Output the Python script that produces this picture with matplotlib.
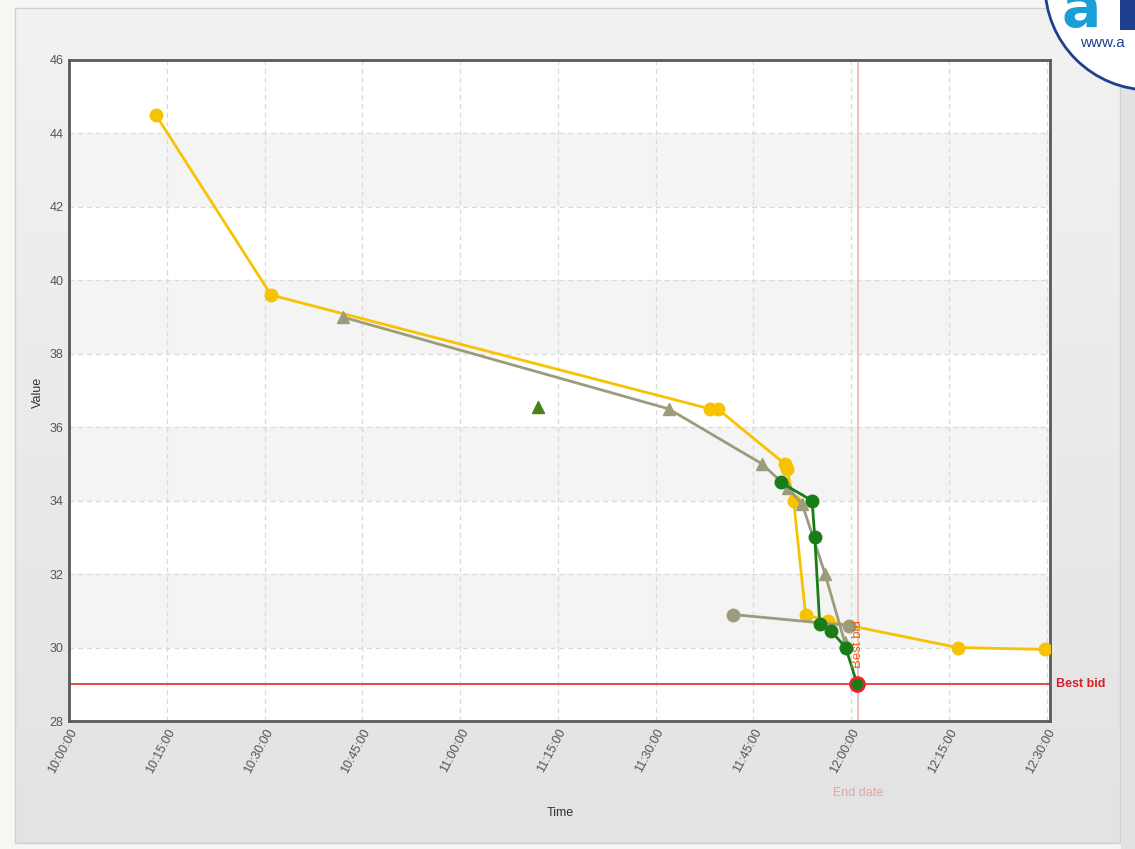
import matplotlib
matplotlib.use("Agg")
import matplotlib.pyplot as plt
import matplotlib.dates as mdates
import numpy as np
import pandas as pd
from matplotlib.patches import Circle, Rectangle

plt.rcParams['font.family'] = ['Liberation Sans', 'DejaVu Sans']

DAY = "2020-01-01 "

# ---------------- data ----------------
yellow_times = ["10:13:20", "10:31:00", "11:38:20", "11:39:30", "11:49:50", "11:50:10",
                "11:51:10", "11:53:00", "11:56:25", "12:16:20", "12:29:40"]
yellow_vals = [44.5, 39.6, 36.5, 36.5, 35.0, 34.85, 34.0, 30.9, 30.72, 30.0, 29.95]

khaki_tri_times = ["10:42:00", "11:32:00", "11:46:20", "11:50:15", "11:52:30", "11:56:00", "11:59:00"]
khaki_tri_vals = [39.0, 36.5, 35.0, 34.35, 33.9, 32.0, 30.15]

khaki_circ_times = ["11:41:50", "11:59:40"]
khaki_circ_vals = [30.9, 30.6]

green_times = ["11:49:10", "11:54:00", "11:54:25", "11:55:10", "11:56:55", "11:59:10", "12:00:55"]
green_vals = [34.5, 34.0, 33.0, 30.65, 30.45, 30.0, 29.0]

lone_tri_times = ["11:12:00"]
lone_tri_vals = [36.55]

best_bid = 29.0
end_date = "12:01:00"

x_start, x_end = "10:00:00", "12:30:30"
y_min, y_max = 28, 46
y_ticks = [28, 30, 32, 34, 36, 38, 40, 42, 44, 46]


def T(lst):
    return pd.to_datetime([DAY + s for s in lst])


# ---------------- figure ----------------
W, H = 1135, 849
fig = plt.figure(figsize=(W / 100, H / 100), dpi=100)
fig.patch.set_facecolor('#f6f6f2')

# background panel with vertical gradient
bg = fig.add_axes([0, 0, 1, 1], zorder=-10)
bg.set_xlim(0, W)
bg.set_ylim(H, 0)
bg.axis('off')
grad = np.linspace(0, 1, 256).reshape(-1, 1)
top_c = np.array([0xf2, 0xf2, 0xf2]) / 255
bot_c = np.array([0xe3, 0xe3, 0xe3]) / 255
img = top_c[None, None, :] * (1 - grad[:, :, None]) + bot_c[None, None, :] * grad[:, :, None]
bg.imshow(img, extent=[15, 1120, 843, 8], aspect='auto', zorder=0)
bg.add_patch(Rectangle((15, 8), 1105, 835, fill=False, ec='#d0d0d0', lw=1, zorder=1))
bg.add_patch(Rectangle((1121, 0), 14, H, fc='#e2e2e2', ec='none', zorder=1))
# logo
bg.add_patch(Circle((1150, -15), 105, fc='white', ec='#1f3f8f', lw=2, zorder=5))
bg.text(1062, 27, "a", color='#1a9ed8', fontsize=42, fontweight='bold', zorder=6,
        va='baseline', ha='left', family='DejaVu Sans')
bg.add_patch(Rectangle((1120, 0), 20, 30, fc='#1f3f8f', ec='none', zorder=6))
bg.text(1080, 47, "www.a", color='#1f3f8f', fontsize=11, zorder=6, va='baseline', ha='left')

# main axes
L, R, TOP, BOT = 69, 1050, 60, 721
ax = fig.add_axes([L / W, 1 - BOT / H, (R - L) / W, (BOT - TOP) / H])
ax.set_facecolor('white')

# alternating bands
for i, y0 in enumerate(y_ticks[:-1]):
    if i % 2 == 1:
        ax.axhspan(y0, y0 + 2, color='#f4f4f4', zorder=0, lw=0)

ax.set_xlim(T([x_start])[0], T([x_end])[0])
ax.set_ylim(y_min, y_max)
ax.set_yticks(y_ticks)
ax.xaxis.set_major_locator(mdates.MinuteLocator(byminute=[0, 15, 30, 45]))
ax.xaxis.set_major_formatter(mdates.DateFormatter('%H:%M:%S'))
ax.grid(True, color='#dadada', ls=(0, (4, 3)), lw=0.9, zorder=1)
ax.tick_params(length=0, labelsize=9, colors='#555555', pad=4)
for lab in ax.get_xticklabels():
    lab.set_rotation(62)
    lab.set_ha('right')
    lab.set_rotation_mode('anchor')
for sp in ax.spines.values():
    sp.set_color('#5a5a5a')
    sp.set_linewidth(2)

# reference lines
ax.axhline(best_bid, color='#e8383d', lw=1.3, zorder=2)
ax.axvline(T([end_date])[0], color='#ecbcb4', lw=1.3, zorder=2)

# series
yellow = '#f7c300'
khaki = '#9c9c7c'
green = '#187c18'
ax.plot(T(yellow_times), yellow_vals, color=yellow, lw=2, marker='o', ms=9,
        mec=yellow, zorder=4)
ax.plot(T(khaki_tri_times), khaki_tri_vals, color=khaki, lw=2, marker='^', ms=8,
        mec=khaki, zorder=5)
ax.plot(T(khaki_circ_times), khaki_circ_vals, color=khaki, lw=2, marker='o', ms=9,
        mec=khaki, zorder=5)
ax.plot(T(green_times), green_vals, color=green, lw=2, marker='o', ms=9,
        mec=green, zorder=6)
ax.plot(T(green_times[-1:]), green_vals[-1:], ls='none', marker='o', ms=10,
        mfc=green, mec='#e0282d', mew=2, zorder=7)
ax.plot(T(lone_tri_times), lone_tri_vals, ls='none', marker='^', ms=8,
        color='#4f7f1a', zorder=5)

# labels
ax.text(T([end_date])[0], 29.45, "Best bid", rotation=90, color='#e8601c',
        fontsize=9.5, ha='center', va='bottom', zorder=8)
ax.text(1.006, (best_bid - y_min) / (y_max - y_min), "Best bid", transform=ax.transAxes,
        color='#d8202a', fontsize=9, fontweight='bold', va='center', ha='left')
fig.text(858 / W, 1 - 793 / H, "End date", color='#e6a4a4', fontsize=9,
         ha='center', va='center')
fig.text(560 / W, 1 - 813 / H, "Time", color='#333333', fontsize=9,
         ha='center', va='center')
fig.text(38 / W, 1 - 392 / H, "Value", color='#333333', fontsize=9,
         ha='center', va='center', rotation=90)

fig.savefig("out.png", dpi=100, facecolor=fig.get_facecolor())
